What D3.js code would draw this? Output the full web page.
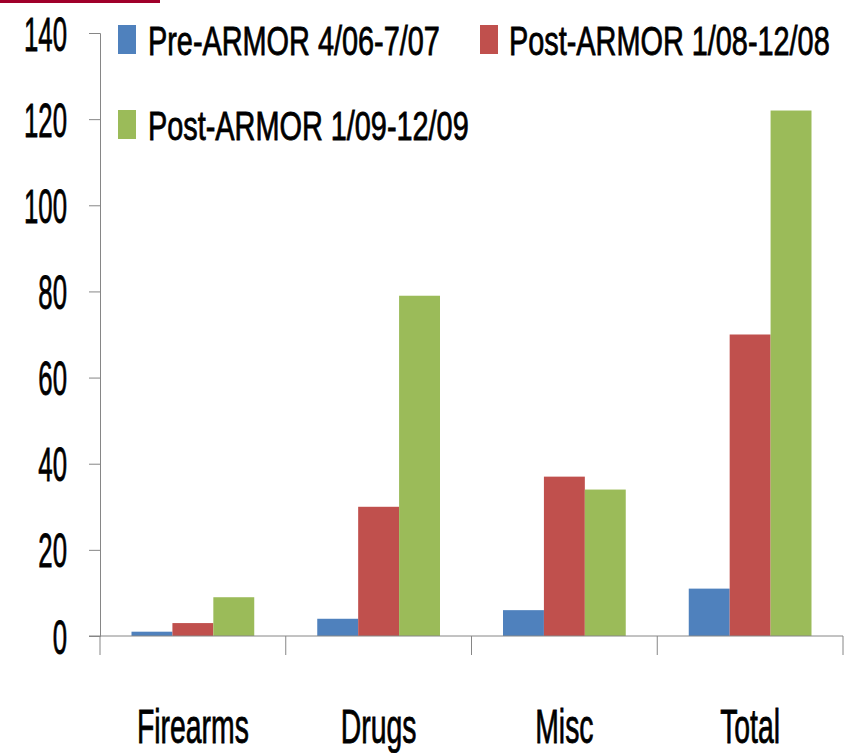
<!DOCTYPE html>
<html>
<head>
<meta charset="utf-8">
<script src="https://cdn.jsdelivr.net/npm/d3@7"></script>
<style>
  body { margin: 0; background: #fff; }
  text { font-family: "Liberation Sans Narrow", "Arial Narrow", "Liberation Sans", sans-serif; fill: #000; stroke: #000; stroke-width: 0.8px; }
</style>
</head>
<body>
<svg id="chart" width="845" height="753"></svg>
<script>
const categories = ["Firearms", "Drugs", "Misc", "Total"];
const seriesNames = ["Pre-ARMOR 4/06-7/07", "Post-ARMOR 1/08-12/08", "Post-ARMOR 1/09-12/09"];
const preArmor = [1, 4, 6, 11];
const post2008 = [3, 30, 37, 70];
const post2009 = [9, 79, 34, 122];
const yTicks = [0, 20, 40, 60, 80, 100, 120, 140];
const colors = ["#4F81BD", "#C0504D", "#9BBB59"];

const seriesValues = [preArmor, post2008, post2009];
const rows = categories.map((c, i) => ({ name: c, values: seriesValues.map(s => s[i]) }));

const width = 845, height = 753;
const margin = { top: 33, right: 2, bottom: 117, left: 100 };
const svg = d3.select("#chart");
const axisColor = "#868686";

// red strip at top-left
svg.append("rect").attr("x", 0).attr("y", 0).attr("width", 160).attr("height", 3).attr("fill", "#A0002A");

let x0 = d3.scaleBand().domain(categories).range([margin.left, width - margin.right]).padding(0);
let x1 = d3.scaleBand().domain(d3.range(seriesNames.length)).range([0, x0.bandwidth()]).paddingInner(0).paddingOuter(0.77);
let y = d3.scaleLinear().domain([0, 140]).range([height - margin.bottom, margin.top]);

// y axis
let yAxis = g => g.attr("transform", `translate(${margin.left},0)`)
  .call(d3.axisLeft(y).tickValues(yTicks).tickSize(11).tickFormat(d => d))
  .call(g => g.select(".domain").attr("stroke", axisColor))
  .call(g => g.selectAll(".tick line").attr("stroke", axisColor))
  .call(g => g.selectAll(".tick text").attr("x", null).attr("dy", null).attr("font-size", 48)
    .attr("text-anchor", "end"));
let yg = svg.append("g").call(yAxis);
// squeeze the text so it gets the tall, narrow look of the original
let ysx = 43 / yg.selectAll(".tick text").filter(d => d === 140).node().getComputedTextLength();
yg.selectAll(".tick text").attr("transform", `translate(-33,17) scale(${ysx},1)`);

// bars
let g = svg.append("g");
g.selectAll("g").data(rows).join("g")
  .attr("transform", d => `translate(${x0(d.name)},0)`)
  .selectAll("rect").data(d => d.values.map((v, i) => ({ v, i }))).join("rect")
  .attr("x", d => x1(d.i))
  .attr("y", d => y(d.v))
  .attr("width", x1.bandwidth())
  .attr("height", d => y(0) - y(d.v))
  .attr("fill", d => colors[d.i]);

// x axis
let xAxis = g => g.attr("transform", `translate(0,${y(0)})`)
  .call(d3.axisBottom(x0).tickSize(0).tickPadding(0))
  .call(g => g.select(".domain").remove())
  .call(g => g.selectAll(".tick text").attr("y", null).attr("dy", null).attr("font-size", 48));
let xg = svg.append("g").call(xAxis);
let xsx = 112 / xg.selectAll(".tick text").filter(d => d === "Firearms").node().getComputedTextLength();
xg.selectAll(".tick text").attr("transform", `translate(0,107) scale(${xsx},1)`);
xg.append("line").attr("x1", margin.left - 11).attr("x2", width - margin.right).attr("stroke", axisColor);
xg.selectAll(".sep").data(d3.range(categories.length + 1)).join("line")
  .attr("x1", i => i < categories.length ? x0(categories[i]) : x0.range()[1])
  .attr("x2", i => i < categories.length ? x0(categories[i]) : x0.range()[1])
  .attr("y1", 0).attr("y2", 19).attr("stroke", axisColor);

// legend
const legendPos = [[118, 25], [480, 25], [118, 110]];
let lg = svg.append("g").selectAll("g").data(seriesNames).join("g")
  .attr("transform", (d, i) => `translate(${legendPos[i][0]},${legendPos[i][1]})`);
lg.append("rect").attr("width", 18).attr("height", 29).attr("fill", (d, i) => colors[i]);
let lt = lg.append("text").attr("font-size", 41).text(d => d);
let lsx = 292 / lt.filter((d, i) => i === 0).node().getComputedTextLength();
lt.attr("transform", (d, i) => `translate(${i === 1 ? 29 : 30},30) scale(${lsx},1)`);
</script>
</body>
</html>
